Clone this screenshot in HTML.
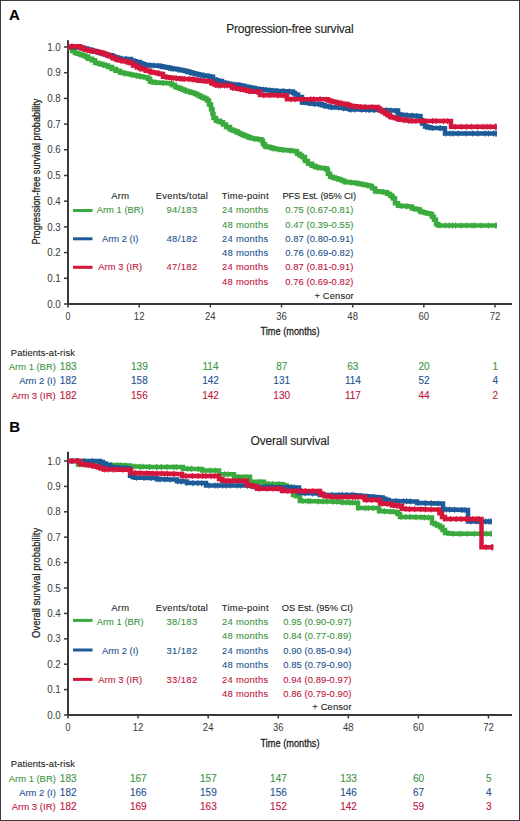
<!DOCTYPE html>
<html><head><meta charset="utf-8"><title>Survival curves</title>
<style>html,body{margin:0;padding:0;background:#fff;width:520px;height:821px;overflow:hidden;position:relative}
text{font-family:"Liberation Sans", sans-serif}</style></head>
<body>
<svg width="520" height="821" viewBox="0 0 520 821" style="position:absolute;left:0;top:0;font-family:&apos;Liberation Sans&apos;, sans-serif">
<rect x="0" y="0" width="520" height="821" fill="#fff"/>
<text x="8.9" y="19.8" font-size="15" fill="#000" stroke="#000" stroke-width="0.1" font-weight="bold">A</text>
<text x="290" y="33.4" font-size="12" fill="#231f20" stroke="#231f20" stroke-width="0.1" text-anchor="middle" textLength="127.5" lengthAdjust="spacing">Progression-free survival</text>
<rect x="67" y="40.2" width="2" height="264.8" fill="#383838"/>
<rect x="67" y="303" width="445" height="2" fill="#383838"/>
<rect x="64" y="303.25" width="4" height="1.5" fill="#383838"/>
<text x="60.8" y="307.6" font-size="10" fill="#3a3a3a" stroke="#3a3a3a" stroke-width="0" text-anchor="end" textLength="13.6" lengthAdjust="spacingAndGlyphs">0.0</text>
<rect x="64" y="277.55" width="4" height="1.5" fill="#383838"/>
<text x="60.8" y="281.9" font-size="10" fill="#3a3a3a" stroke="#3a3a3a" stroke-width="0" text-anchor="end" textLength="13.6" lengthAdjust="spacingAndGlyphs">0.1</text>
<rect x="64" y="251.85" width="4" height="1.5" fill="#383838"/>
<text x="60.8" y="256.2" font-size="10" fill="#3a3a3a" stroke="#3a3a3a" stroke-width="0" text-anchor="end" textLength="13.6" lengthAdjust="spacingAndGlyphs">0.2</text>
<rect x="64" y="226.15" width="4" height="1.5" fill="#383838"/>
<text x="60.8" y="230.5" font-size="10" fill="#3a3a3a" stroke="#3a3a3a" stroke-width="0" text-anchor="end" textLength="13.6" lengthAdjust="spacingAndGlyphs">0.3</text>
<rect x="64" y="200.45" width="4" height="1.5" fill="#383838"/>
<text x="60.8" y="204.8" font-size="10" fill="#3a3a3a" stroke="#3a3a3a" stroke-width="0" text-anchor="end" textLength="13.6" lengthAdjust="spacingAndGlyphs">0.4</text>
<rect x="64" y="174.75" width="4" height="1.5" fill="#383838"/>
<text x="60.8" y="179.1" font-size="10" fill="#3a3a3a" stroke="#3a3a3a" stroke-width="0" text-anchor="end" textLength="13.6" lengthAdjust="spacingAndGlyphs">0.5</text>
<rect x="64" y="149.05" width="4" height="1.5" fill="#383838"/>
<text x="60.8" y="153.4" font-size="10" fill="#3a3a3a" stroke="#3a3a3a" stroke-width="0" text-anchor="end" textLength="13.6" lengthAdjust="spacingAndGlyphs">0.6</text>
<rect x="64" y="123.35" width="4" height="1.5" fill="#383838"/>
<text x="60.8" y="127.7" font-size="10" fill="#3a3a3a" stroke="#3a3a3a" stroke-width="0" text-anchor="end" textLength="13.6" lengthAdjust="spacingAndGlyphs">0.7</text>
<rect x="64" y="97.65" width="4" height="1.5" fill="#383838"/>
<text x="60.8" y="102.0" font-size="10" fill="#3a3a3a" stroke="#3a3a3a" stroke-width="0" text-anchor="end" textLength="13.6" lengthAdjust="spacingAndGlyphs">0.8</text>
<rect x="64" y="71.95" width="4" height="1.5" fill="#383838"/>
<text x="60.8" y="76.3" font-size="10" fill="#3a3a3a" stroke="#3a3a3a" stroke-width="0" text-anchor="end" textLength="13.6" lengthAdjust="spacingAndGlyphs">0.9</text>
<rect x="64" y="46.25" width="4" height="1.5" fill="#383838"/>
<text x="60.8" y="50.6" font-size="10" fill="#3a3a3a" stroke="#3a3a3a" stroke-width="0" text-anchor="end" textLength="13.6" lengthAdjust="spacingAndGlyphs">1.0</text>
<rect x="67.25" y="304" width="1.5" height="3.5" fill="#383838"/>
<text x="68.0" y="319.5" font-size="10.4" fill="#3a3a3a" stroke="#3a3a3a" stroke-width="0" text-anchor="middle" textLength="5" lengthAdjust="spacingAndGlyphs">0</text>
<rect x="138.42" y="304" width="1.5" height="3.5" fill="#383838"/>
<text x="139.17" y="319.5" font-size="10.4" fill="#3a3a3a" stroke="#3a3a3a" stroke-width="0" text-anchor="middle" textLength="10.6" lengthAdjust="spacingAndGlyphs">12</text>
<rect x="209.58" y="304" width="1.5" height="3.5" fill="#383838"/>
<text x="210.33" y="319.5" font-size="10.4" fill="#3a3a3a" stroke="#3a3a3a" stroke-width="0" text-anchor="middle" textLength="10.6" lengthAdjust="spacingAndGlyphs">24</text>
<rect x="280.75" y="304" width="1.5" height="3.5" fill="#383838"/>
<text x="281.5" y="319.5" font-size="10.4" fill="#3a3a3a" stroke="#3a3a3a" stroke-width="0" text-anchor="middle" textLength="10.6" lengthAdjust="spacingAndGlyphs">36</text>
<rect x="351.92" y="304" width="1.5" height="3.5" fill="#383838"/>
<text x="352.67" y="319.5" font-size="10.4" fill="#3a3a3a" stroke="#3a3a3a" stroke-width="0" text-anchor="middle" textLength="10.6" lengthAdjust="spacingAndGlyphs">48</text>
<rect x="423.08" y="304" width="1.5" height="3.5" fill="#383838"/>
<text x="423.83" y="319.5" font-size="10.4" fill="#3a3a3a" stroke="#3a3a3a" stroke-width="0" text-anchor="middle" textLength="10.6" lengthAdjust="spacingAndGlyphs">60</text>
<rect x="494.25" y="304" width="1.5" height="3.5" fill="#383838"/>
<text x="495.0" y="319.5" font-size="10.4" fill="#3a3a3a" stroke="#3a3a3a" stroke-width="0" text-anchor="middle" textLength="10.6" lengthAdjust="spacingAndGlyphs">72</text>
<text x="290" y="335.4" font-size="11" fill="#231f20" stroke="#231f20" stroke-width="0.3" text-anchor="middle" textLength="59" lengthAdjust="spacingAndGlyphs">Time (months)</text>
<text x="0" y="0" font-size="11" fill="#231f20" stroke="#231f20" stroke-width="0.25" text-anchor="middle" textLength="146" lengthAdjust="spacingAndGlyphs" transform="translate(40.2,171.6) rotate(-90)">Progression-free survival probability</text>
<text x="120.1" y="199" font-size="9.4" fill="#231f20" stroke="#231f20" stroke-width="0.1" text-anchor="middle" textLength="17.8" lengthAdjust="spacing">Arm</text>
<text x="181.8" y="199" font-size="9.4" fill="#231f20" stroke="#231f20" stroke-width="0.1" text-anchor="middle" textLength="52.3" lengthAdjust="spacing">Events/total</text>
<text x="245.1" y="199" font-size="9.4" fill="#231f20" stroke="#231f20" stroke-width="0.1" text-anchor="middle" textLength="46.8" lengthAdjust="spacing">Time-point</text>
<text x="319.3" y="199" font-size="9.4" fill="#231f20" stroke="#231f20" stroke-width="0.1" text-anchor="middle" textLength="73.7" lengthAdjust="spacing">PFS Est. (95% CI)</text>
<rect x="73" y="209.0" width="19.5" height="3" fill="#3aaa3e"/>
<text x="120.2" y="213.3" font-size="9.4" fill="#3a9440" stroke="#3a9440" stroke-width="0.1" text-anchor="middle" textLength="47" lengthAdjust="spacing">Arm 1 (BR)</text>
<text x="181.8" y="213.3" font-size="9.4" fill="#3a9440" stroke="#3a9440" stroke-width="0.1" text-anchor="middle" textLength="30.8" lengthAdjust="spacing">94/183</text>
<text x="245.1" y="213.3" font-size="9.4" fill="#3a9440" stroke="#3a9440" stroke-width="0.1" text-anchor="middle" textLength="46.2" lengthAdjust="spacing">24 months</text>
<text x="245.1" y="227.6" font-size="9.4" fill="#3a9440" stroke="#3a9440" stroke-width="0.1" text-anchor="middle" textLength="46.2" lengthAdjust="spacing">48 months</text>
<text x="319.3" y="213.3" font-size="9.4" fill="#3a9440" stroke="#3a9440" stroke-width="0.1" text-anchor="middle" textLength="68" lengthAdjust="spacing">0.75 (0.67-0.81)</text>
<text x="319.3" y="227.6" font-size="9.4" fill="#3a9440" stroke="#3a9440" stroke-width="0.1" text-anchor="middle" textLength="68" lengthAdjust="spacing">0.47 (0.39-0.55)</text>
<rect x="73" y="237.3" width="19.5" height="3" fill="#1d5b98"/>
<text x="120.2" y="241.8" font-size="9.4" fill="#1d528e" stroke="#1d528e" stroke-width="0.1" text-anchor="middle" textLength="36.6" lengthAdjust="spacing">Arm 2 (I)</text>
<text x="181.8" y="241.8" font-size="9.4" fill="#1d528e" stroke="#1d528e" stroke-width="0.1" text-anchor="middle" textLength="30.8" lengthAdjust="spacing">48/182</text>
<text x="245.1" y="241.8" font-size="9.4" fill="#1d528e" stroke="#1d528e" stroke-width="0.1" text-anchor="middle" textLength="46.2" lengthAdjust="spacing">24 months</text>
<text x="245.1" y="256.1" font-size="9.4" fill="#1d528e" stroke="#1d528e" stroke-width="0.1" text-anchor="middle" textLength="46.2" lengthAdjust="spacing">48 months</text>
<text x="319.3" y="241.8" font-size="9.4" fill="#1d528e" stroke="#1d528e" stroke-width="0.1" text-anchor="middle" textLength="68" lengthAdjust="spacing">0.87 (0.80-0.91)</text>
<text x="319.3" y="256.1" font-size="9.4" fill="#1d528e" stroke="#1d528e" stroke-width="0.1" text-anchor="middle" textLength="68" lengthAdjust="spacing">0.76 (0.69-0.82)</text>
<rect x="73" y="265.8" width="19.5" height="3" fill="#d4163c"/>
<text x="120.2" y="270.4" font-size="9.4" fill="#c0163a" stroke="#c0163a" stroke-width="0.1" text-anchor="middle" textLength="44.1" lengthAdjust="spacing">Arm 3 (IR)</text>
<text x="181.8" y="270.4" font-size="9.4" fill="#c0163a" stroke="#c0163a" stroke-width="0.1" text-anchor="middle" textLength="30.8" lengthAdjust="spacing">47/182</text>
<text x="245.1" y="270.4" font-size="9.4" fill="#c0163a" stroke="#c0163a" stroke-width="0.1" text-anchor="middle" textLength="46.2" lengthAdjust="spacing">24 months</text>
<text x="245.1" y="284.7" font-size="9.4" fill="#c0163a" stroke="#c0163a" stroke-width="0.1" text-anchor="middle" textLength="46.2" lengthAdjust="spacing">48 months</text>
<text x="319.3" y="270.4" font-size="9.4" fill="#c0163a" stroke="#c0163a" stroke-width="0.1" text-anchor="middle" textLength="68" lengthAdjust="spacing">0.87 (0.81-0.91)</text>
<text x="319.3" y="284.7" font-size="9.4" fill="#c0163a" stroke="#c0163a" stroke-width="0.1" text-anchor="middle" textLength="68" lengthAdjust="spacing">0.76 (0.69-0.82)</text>
<text x="353.7" y="298.6" font-size="9.4" fill="#231f20" stroke="#231f20" stroke-width="0.1" text-anchor="end" textLength="39.2" lengthAdjust="spacing">+ Censor</text>
<text x="75" y="356.1" font-size="9.4" fill="#231f20" stroke="#231f20" stroke-width="0.1" text-anchor="end" textLength="64.2" lengthAdjust="spacing">Patients-at-risk</text>
<text x="55.8" y="370.2" font-size="9.9" fill="#3a9440" stroke="#3a9440" stroke-width="0.1" text-anchor="end" textLength="47" lengthAdjust="spacingAndGlyphs">Arm 1 (BR)</text>
<text x="68.2" y="370.2" font-size="10" fill="#3a9440" stroke="#3a9440" stroke-width="0.1" text-anchor="middle">183</text>
<text x="139.37" y="370.2" font-size="10" fill="#3a9440" stroke="#3a9440" stroke-width="0.1" text-anchor="middle">139</text>
<text x="210.53" y="370.2" font-size="10" fill="#3a9440" stroke="#3a9440" stroke-width="0.1" text-anchor="middle">114</text>
<text x="281.7" y="370.2" font-size="10" fill="#3a9440" stroke="#3a9440" stroke-width="0.1" text-anchor="middle">87</text>
<text x="352.87" y="370.2" font-size="10" fill="#3a9440" stroke="#3a9440" stroke-width="0.1" text-anchor="middle">63</text>
<text x="424.03" y="370.2" font-size="10" fill="#3a9440" stroke="#3a9440" stroke-width="0.1" text-anchor="middle">20</text>
<text x="495.2" y="370.2" font-size="10" fill="#3a9440" stroke="#3a9440" stroke-width="0.1" text-anchor="middle">1</text>
<text x="55.8" y="384.4" font-size="9.9" fill="#1d528e" stroke="#1d528e" stroke-width="0.1" text-anchor="end" textLength="36.6" lengthAdjust="spacingAndGlyphs">Arm 2 (I)</text>
<text x="68.2" y="384.4" font-size="10" fill="#1d528e" stroke="#1d528e" stroke-width="0.1" text-anchor="middle">182</text>
<text x="139.37" y="384.4" font-size="10" fill="#1d528e" stroke="#1d528e" stroke-width="0.1" text-anchor="middle">158</text>
<text x="210.53" y="384.4" font-size="10" fill="#1d528e" stroke="#1d528e" stroke-width="0.1" text-anchor="middle">142</text>
<text x="281.7" y="384.4" font-size="10" fill="#1d528e" stroke="#1d528e" stroke-width="0.1" text-anchor="middle">131</text>
<text x="352.87" y="384.4" font-size="10" fill="#1d528e" stroke="#1d528e" stroke-width="0.1" text-anchor="middle">114</text>
<text x="424.03" y="384.4" font-size="10" fill="#1d528e" stroke="#1d528e" stroke-width="0.1" text-anchor="middle">52</text>
<text x="495.2" y="384.4" font-size="10" fill="#1d528e" stroke="#1d528e" stroke-width="0.1" text-anchor="middle">4</text>
<text x="55.8" y="398.5" font-size="9.9" fill="#c0163a" stroke="#c0163a" stroke-width="0.1" text-anchor="end" textLength="44.1" lengthAdjust="spacingAndGlyphs">Arm 3 (IR)</text>
<text x="68.2" y="398.5" font-size="10" fill="#c0163a" stroke="#c0163a" stroke-width="0.1" text-anchor="middle">182</text>
<text x="139.37" y="398.5" font-size="10" fill="#c0163a" stroke="#c0163a" stroke-width="0.1" text-anchor="middle">156</text>
<text x="210.53" y="398.5" font-size="10" fill="#c0163a" stroke="#c0163a" stroke-width="0.1" text-anchor="middle">142</text>
<text x="281.7" y="398.5" font-size="10" fill="#c0163a" stroke="#c0163a" stroke-width="0.1" text-anchor="middle">130</text>
<text x="352.87" y="398.5" font-size="10" fill="#c0163a" stroke="#c0163a" stroke-width="0.1" text-anchor="middle">117</text>
<text x="424.03" y="398.5" font-size="10" fill="#c0163a" stroke="#c0163a" stroke-width="0.1" text-anchor="middle">44</text>
<text x="495.2" y="398.5" font-size="10" fill="#c0163a" stroke="#c0163a" stroke-width="0.1" text-anchor="middle">2</text>
<path d="M68.0,47.0H70.0V47.8H72.0V50.7H75.0V53.0H77.5V53.8H80.0V54.5H82.5V55.5H85.0V56.4H88.0V58.8H92.0V60.3H95.0V62.7H97.5V63.4H100.0V64.1H102.5V64.8H105.0V65.6H108.0V67.0H112.0V68.9H116.0V70.8H120.0V72.6H122.5V73.1H125.0V73.6H127.5V74.0H130.0V74.5H132.5V75.0H135.0V75.5H137.5V76.0H140.0V76.4H142.5V76.9H145.0V77.4H148.0V78.8H150.0V81.7H152.5V82.2H155.0V82.6H158.3V82.8H161.7V82.9H165.0V83.1H167.5V83.3H170.0V83.6H172.0V85.0H175.0V86.9H177.5V87.8H180.0V88.8H182.5V89.8H185.0V90.8H187.5V91.5H190.0V92.2H192.5V93.1H195.0V94.0H197.5V95.3H200.0V96.7H202.5V97.7H205.0V98.7H207.0V100.6H209.0V104.4H211.0V109.2H212.5V114.0H213.5V117.9H216.0V120.8H220.0V122.2H223.0V124.6H226.0V127.0H230.0V129.4H232.5V130.4H235.0V131.3H237.5V132.7H240.0V134.0H242.5V135.0H245.0V136.0H247.5V137.0H250.0V138.0H252.5V138.5H255.0V139.0H257.5V139.2H260.0V139.4H262.0V140.9H263.0V144.2H265.0V146.6H267.5V147.1H270.0V147.6H272.5V148.3H275.0V149.0H277.7V149.3H280.3V149.7H283.0V150.0H286.0V150.3H289.0V150.6H292.0V150.9H295.0V151.2H297.0V153.7H300.0V155.6H302.0V157.0H305.0V160.9H308.0V163.8H312.0V165.7H315.0V167.1H317.5V167.6H320.0V168.1H322.5V168.3H325.0V168.6H327.0V170.0H328.0V173.8H330.0V176.7H332.5V177.4H335.0V178.2H337.5V179.1H340.0V180.1H342.5V181.1H345.0V182.0H347.5V182.2H350.0V182.5H352.5V182.8H355.0V183.0H357.5V183.5H360.0V184.0H362.5V184.4H365.0V184.9H367.5V185.4H370.0V185.9H372.0V188.3H375.0V191.2H378.3V191.5H381.7V191.9H385.0V192.2H387.0V193.7H390.0V195.6H392.0V197.0H393.0V198.5H395.0V203.3H398.0V205.7H401.0V205.9H404.0V206.1H407.0V206.4H410.0V206.6H412.0V208.6H415.0V209.1H418.0V209.5H420.0V211.5H422.5V212.2H425.0V213.0H427.5V213.5H430.0V214.0H432.0V216.8H434.0V219.7H436.0V224.0H438.0V225.5H497.0" fill="none" stroke="#3aaa3e" stroke-width="4.5" stroke-linejoin="miter" stroke-linecap="butt"/>
<path d="M72.0,47.7V53.7M79.1,51.2V57.2M85.6,53.9V59.9M90.1,56.6V62.6M93.7,58.7V64.7M98.8,60.8V66.8M103.2,62.1V68.1M109.9,64.9V70.9M113.7,66.7V72.7M118.6,69.0V75.0M124.1,70.4V76.4M131.5,71.8V77.8M136.5,72.8V78.8M140.2,73.4V79.4M146.8,75.2V81.2M152.5,79.1V85.1M156.0,79.6V85.6M163.4,80.0V86.0M171.3,81.5V87.5M178.2,85.1V91.1M185.6,88.0V94.0M189.5,89.1V95.1M195.9,91.5V97.5M203.2,95.0V101.0M209.4,102.2V108.2M214.2,115.7V121.7M216.8,118.1V124.1M221.4,120.3V126.3M227.1,124.6V130.6M234.5,128.1V134.1M242.3,131.9V137.9M247.2,133.9V139.9M254.4,135.9V141.9M258.0,136.2V142.2M264.8,143.3V149.3M270.1,144.6V150.6M272.2,145.2V151.2M278.5,146.4V152.4M282.9,147.0V153.0M289.8,147.7V153.7M295.8,149.3V155.3M297.8,151.2V157.2M302.8,155.0V161.0M310.0,161.7V167.7M313.5,163.4V169.4M317.4,164.6V170.6M324.6,165.6V171.6M327.8,170.0V176.0M333.2,174.7V180.7M336.6,175.8V181.8M344.4,178.8V184.8M351.2,179.6V185.6M355.9,180.2V186.2M358.4,180.7V186.7M362.3,181.4V187.4M367.4,182.4V188.4M375.0,188.2V194.2M377.6,188.5V194.5M382.9,189.0V195.0M389.2,192.1V198.1M394.5,199.0V205.0M401.4,203.0V209.0M406.6,203.3V209.3M414.4,206.0V212.0M420.0,208.5V214.5M425.5,210.1V216.1M430.2,211.3V217.3M435.8,220.5V226.5M440.1,222.5V228.5M445.5,222.5V228.5M449.3,222.5V228.5M452.4,222.5V228.5M455.5,222.5V228.5M461.2,222.5V228.5M467.2,222.5V228.5M472.0,222.5V228.5M474.6,222.5V228.5M481.1,222.5V228.5M488.4,222.5V228.5M495.9,222.5V228.5M496.0,222.2V228.8" fill="none" stroke="#3aaa3e" stroke-width="1.1"/>
<path d="M68.0,47.0H75.0H77.5V47.2H80.0V47.5H82.5V48.1H85.0V48.7H87.5V49.4H90.0V50.0H92.5V50.8H95.0V51.5H97.5V52.2H100.0V53.0H102.5V53.8H105.0V54.5H107.5V54.9H110.0V55.3H112.5V56.4H115.0V57.5H117.5V58.1H120.0V58.7H122.7V58.8H125.3V59.0H128.0V59.1H131.0V60.6H133.5V61.3H136.0V62.0H140.0V63.5H142.5V64.2H145.0V64.9H147.5V65.2H150.0V65.4H155.0H157.5V65.8H160.0V66.2H162.5V66.7H165.0V67.2H167.5V67.7H170.0V68.2H172.5V68.7H175.0V69.1H177.5V69.6H180.0V70.1H182.5V70.6H185.0V71.1H187.5V71.8H190.0V72.5H192.5V73.2H195.0V73.9H197.5V74.5H200.0V75.0H202.5V75.4H205.0V75.8H207.5V76.2H210.0V76.7H213.0V79.6H215.5V80.3H218.0V81.0H222.0V82.5H224.7V83.1H227.3V83.8H230.0V84.4H235.0H237.5V84.9H240.0V85.4H242.5V86.1H245.0V86.8H248.3V87.4H251.7V88.1H255.0V88.7H258.3V89.2H261.7V89.6H265.0V90.1H267.5V90.3H270.0V90.6H273.3V90.8H276.7V90.9H280.0V91.1H283.3V91.3H286.7V91.4H290.0V91.6H293.0V93.0H295.0V94.5H298.0V97.0H302.0V102.4H304.7V102.7H307.3V103.1H310.0V103.4H312.5V103.7H315.0V103.9H317.5V104.1H320.0V104.3H322.0V105.3H324.7V105.9H327.3V106.6H330.0V107.2H333.3V107.4H336.7V107.5H340.0V107.7H343.3V108.3H346.7V108.8H350.0V109.4H353.0V109.5H356.0V109.5H359.0V109.6H362.0V109.7H365.0V109.8H368.0V109.8H371.0V109.9H374.0V110.0H377.0V110.1H380.0V110.1H383.0V110.2H386.0V110.3H389.0V110.4H392.0V110.4H395.0V110.5H398.0V114.4H401.5V114.9H405.0V115.4H408.3V115.6H411.7V115.7H415.0V115.9H417.5V116.1H420.0V116.3H420.5V120.0H422.0V123.6H425.0V126.4H427.5V127.2H430.0V127.9H433.2V128.0H436.5V128.1H439.8V128.2H443.0V128.3H445.0V133.6H497.0" fill="none" stroke="#1d5b98" stroke-width="4.5" stroke-linejoin="miter" stroke-linecap="butt"/>
<path d="M72.0,44.0V50.0M74.8,44.0V50.0M81.9,45.0V51.0M88.5,46.6V52.6M92.0,47.6V53.6M97.0,49.1V55.1M101.7,50.5V56.5M107.6,51.9V57.9M114.3,54.2V60.2M116.9,55.0V61.0M119.0,55.5V61.5M126.1,56.0V62.0M130.7,57.4V63.4M137.2,59.5V65.5M139.2,60.2V66.2M143.9,61.6V67.6M150.2,62.4V68.4M153.6,62.5V68.5M161.3,63.5V69.5M168.7,64.9V70.9M170.9,65.4V71.4M173.0,65.7V71.7M178.3,66.8V72.8M185.9,68.4V74.4M190.2,69.6V75.6M193.5,70.5V76.5M198.0,71.6V77.6M200.2,72.0V78.0M203.5,72.6V78.6M208.2,73.4V79.4M213.1,76.6V82.6M216.5,77.6V83.6M219.9,78.7V84.7M223.2,79.8V85.8M228.0,80.9V86.9M231.7,81.5V87.5M233.9,81.6V87.6M240.9,82.7V88.7M246.2,84.0V90.0M252.1,85.1V91.1M255.2,85.7V91.7M263.2,86.8V92.8M270.3,87.6V93.6M273.0,87.8V93.8M277.0,88.0V94.0M283.4,88.3V94.3M289.6,88.6V94.6M297.3,93.4V99.4M301.8,99.1V105.1M308.8,100.2V106.2M314.8,100.9V106.9M318.6,101.2V107.2M324.1,102.8V108.8M331.4,104.3V110.3M338.5,104.6V110.6M343.5,105.3V111.3M349.1,106.2V112.2M351.3,106.4V112.4M354.7,106.5V112.5M361.5,106.7V112.7M366.0,106.8V112.8M369.0,106.9V112.9M374.3,107.0V113.0M380.6,107.1V113.1M386.6,107.3V113.3M390.8,107.4V113.4M395.5,108.1V114.1M400.5,111.8V117.8M407.2,112.5V118.5M412.3,112.8V118.8M416.7,113.0V119.0M421.6,119.7V125.7M423.8,122.3V128.3M426.1,123.7V129.7M432.3,125.0V131.0M440.2,125.2V131.2M445.7,130.6V136.6M450.1,130.6V136.6M453.1,130.6V136.6M458.1,130.6V136.6M466.0,130.6V136.6M472.7,130.6V136.6M477.9,130.6V136.6M485.1,130.6V136.6M488.4,130.6V136.6M493.5,130.6V136.6M496.0,130.3V136.9" fill="none" stroke="#1d5b98" stroke-width="1.1"/>
<path d="M68.0,47.0H72.0V46.2H78.0H80.0V47.8H82.5V48.8H85.0V49.7H87.5V50.2H90.0V50.7H92.5V51.2H95.0V51.6H97.5V52.1H100.0V52.6H102.5V53.5H105.0V54.5H107.5V55.5H110.0V56.6H112.5V57.9H115.0V59.1H117.5V59.9H120.0V60.6H122.5V61.0H125.0V61.5H127.5V62.2H130.0V63.0H133.0V65.4H137.0V67.3H139.5V68.2H142.0V69.2H146.0V70.7H150.0V72.1H152.5V72.4H155.0V72.8H157.5V73.4H160.0V74.0H163.0V76.8H166.5V77.3H170.0V77.8H172.5V78.0H175.0V78.3H177.5V78.5H180.0V78.8H183.3V78.9H186.7V79.0H190.0V79.2H193.3V79.7H196.7V80.2H200.0V80.7H202.7V81.0H205.3V81.2H208.0V81.5H212.0V83.5H214.5V84.5H217.0V85.4H230.0H232.0V87.8H234.7V88.3H237.3V88.7H240.0V89.2H242.5V89.7H245.0V90.2H247.5V90.8H250.0V91.5H253.0V91.7H256.0V91.8H259.0V92.0H260.0V95.1H263.1V95.1H266.2V95.2H269.4V95.2H272.5V95.3H275.6V95.3H278.8V95.4H281.9V95.5H285.0V95.5H287.0V99.2H325.0H328.0V100.5H330.5V101.2H333.0V102.0H336.5V102.7H340.0V103.4H342.5V103.8H345.0V104.1H347.5V105.0H350.0V106.0H353.3V106.3H356.7V106.7H360.0V107.0H375.0H378.0V108.5H380.0V110.5H382.5V112.0H385.0V113.5H387.5V115.2H390.0V116.8H392.5V117.5H395.0V118.3H397.5V119.0H400.0V119.7H403.3V120.1H406.7V120.6H410.0V121.0H450.0H451.0V126.8H497.0" fill="none" stroke="#d4163c" stroke-width="4.5" stroke-linejoin="miter" stroke-linecap="butt"/>
<path d="M72.0,43.2V49.2M79.7,44.6V50.6M87.4,47.2V53.2M89.8,47.7V53.7M92.3,48.1V54.1M99.3,49.5V55.5M105.7,51.8V57.8M111.7,54.5V60.5M115.6,56.3V62.3M121.2,57.8V63.8M126.8,59.1V65.1M132.3,61.9V67.9M135.3,63.5V69.5M139.9,65.4V71.4M144.2,67.0V73.0M150.6,69.2V75.2M158.5,70.6V76.6M166.2,74.3V80.3M171.5,74.9V80.9M176.2,75.4V81.4M179.8,75.7V81.7M182.0,75.8V81.8M184.2,75.9V81.9M188.9,76.2V82.2M192.9,76.6V82.6M197.1,77.3V83.3M204.5,78.1V84.1M209.6,79.3V85.3M215.0,81.6V87.6M218.4,82.4V88.4M220.6,82.5V88.5M224.5,82.5V88.5M227.3,82.6V88.6M232.4,84.9V90.9M240.4,86.3V92.3M246.4,87.6V93.6M249.5,88.4V94.4M256.9,88.9V94.9M263.7,92.2V98.2M270.1,92.3V98.3M277.5,92.4V98.4M284.1,92.5V98.5M290.8,96.2V102.2M295.0,96.2V102.2M302.8,96.2V102.2M310.6,96.2V102.2M313.6,96.2V102.2M320.1,96.2V102.2M326.4,96.8V102.8M331.2,98.4V104.4M336.3,99.7V105.7M341.3,100.6V106.6M348.8,102.6V108.6M353.8,103.4V109.4M360.8,104.0V110.0M364.9,104.1V110.1M372.2,104.2V110.2M379.6,107.1V113.1M384.4,110.1V116.1M389.8,113.7V119.7M397.3,116.0V122.0M403.7,117.2V123.2M408.6,117.8V123.8M411.9,118.0V124.0M415.9,118.0V124.0M422.1,118.1V124.1M425.1,118.1V124.1M432.5,118.1V124.1M436.1,118.1V124.1M443.6,118.2V124.2M447.5,118.2V124.2M455.2,123.8V129.8M461.4,123.8V129.8M466.5,123.8V129.8M471.6,123.8V129.8M477.5,123.8V129.8M483.0,123.8V129.8M486.9,123.8V129.8M490.1,123.8V129.8M495.2,123.8V129.8M496.0,123.5V130.1" fill="none" stroke="#d4163c" stroke-width="1.1"/>
<text x="9.3" y="431.6" font-size="15" fill="#000" stroke="#000" stroke-width="0.1" font-weight="bold">B</text>
<text x="290" y="444.9" font-size="12" fill="#231f20" stroke="#231f20" stroke-width="0.1" text-anchor="middle" textLength="78.8" lengthAdjust="spacing">Overall survival</text>
<rect x="67" y="451.7" width="2" height="264.3" fill="#383838"/>
<rect x="67" y="714" width="445" height="2" fill="#383838"/>
<rect x="64" y="714.25" width="4" height="1.5" fill="#383838"/>
<text x="60.8" y="718.6" font-size="10" fill="#3a3a3a" stroke="#3a3a3a" stroke-width="0" text-anchor="end" textLength="13.6" lengthAdjust="spacingAndGlyphs">0.0</text>
<rect x="64" y="688.85" width="4" height="1.5" fill="#383838"/>
<text x="60.8" y="693.2" font-size="10" fill="#3a3a3a" stroke="#3a3a3a" stroke-width="0" text-anchor="end" textLength="13.6" lengthAdjust="spacingAndGlyphs">0.1</text>
<rect x="64" y="663.45" width="4" height="1.5" fill="#383838"/>
<text x="60.8" y="667.8" font-size="10" fill="#3a3a3a" stroke="#3a3a3a" stroke-width="0" text-anchor="end" textLength="13.6" lengthAdjust="spacingAndGlyphs">0.2</text>
<rect x="64" y="638.05" width="4" height="1.5" fill="#383838"/>
<text x="60.8" y="642.4" font-size="10" fill="#3a3a3a" stroke="#3a3a3a" stroke-width="0" text-anchor="end" textLength="13.6" lengthAdjust="spacingAndGlyphs">0.3</text>
<rect x="64" y="612.65" width="4" height="1.5" fill="#383838"/>
<text x="60.8" y="617.0" font-size="10" fill="#3a3a3a" stroke="#3a3a3a" stroke-width="0" text-anchor="end" textLength="13.6" lengthAdjust="spacingAndGlyphs">0.4</text>
<rect x="64" y="587.25" width="4" height="1.5" fill="#383838"/>
<text x="60.8" y="591.6" font-size="10" fill="#3a3a3a" stroke="#3a3a3a" stroke-width="0" text-anchor="end" textLength="13.6" lengthAdjust="spacingAndGlyphs">0.5</text>
<rect x="64" y="561.85" width="4" height="1.5" fill="#383838"/>
<text x="60.8" y="566.2" font-size="10" fill="#3a3a3a" stroke="#3a3a3a" stroke-width="0" text-anchor="end" textLength="13.6" lengthAdjust="spacingAndGlyphs">0.6</text>
<rect x="64" y="536.45" width="4" height="1.5" fill="#383838"/>
<text x="60.8" y="540.8" font-size="10" fill="#3a3a3a" stroke="#3a3a3a" stroke-width="0" text-anchor="end" textLength="13.6" lengthAdjust="spacingAndGlyphs">0.7</text>
<rect x="64" y="511.05" width="4" height="1.5" fill="#383838"/>
<text x="60.8" y="515.4" font-size="10" fill="#3a3a3a" stroke="#3a3a3a" stroke-width="0" text-anchor="end" textLength="13.6" lengthAdjust="spacingAndGlyphs">0.8</text>
<rect x="64" y="485.65" width="4" height="1.5" fill="#383838"/>
<text x="60.8" y="490.0" font-size="10" fill="#3a3a3a" stroke="#3a3a3a" stroke-width="0" text-anchor="end" textLength="13.6" lengthAdjust="spacingAndGlyphs">0.9</text>
<rect x="64" y="460.25" width="4" height="1.5" fill="#383838"/>
<text x="60.8" y="464.6" font-size="10" fill="#3a3a3a" stroke="#3a3a3a" stroke-width="0" text-anchor="end" textLength="13.6" lengthAdjust="spacingAndGlyphs">1.0</text>
<rect x="67.25" y="715" width="1.5" height="3.5" fill="#383838"/>
<text x="68.0" y="730.5" font-size="10.4" fill="#3a3a3a" stroke="#3a3a3a" stroke-width="0" text-anchor="middle" textLength="5" lengthAdjust="spacingAndGlyphs">0</text>
<rect x="137.33" y="715" width="1.5" height="3.5" fill="#383838"/>
<text x="138.08" y="730.5" font-size="10.4" fill="#3a3a3a" stroke="#3a3a3a" stroke-width="0" text-anchor="middle" textLength="10.6" lengthAdjust="spacingAndGlyphs">12</text>
<rect x="207.42" y="715" width="1.5" height="3.5" fill="#383838"/>
<text x="208.17" y="730.5" font-size="10.4" fill="#3a3a3a" stroke="#3a3a3a" stroke-width="0" text-anchor="middle" textLength="10.6" lengthAdjust="spacingAndGlyphs">24</text>
<rect x="277.50" y="715" width="1.5" height="3.5" fill="#383838"/>
<text x="278.25" y="730.5" font-size="10.4" fill="#3a3a3a" stroke="#3a3a3a" stroke-width="0" text-anchor="middle" textLength="10.6" lengthAdjust="spacingAndGlyphs">36</text>
<rect x="347.58" y="715" width="1.5" height="3.5" fill="#383838"/>
<text x="348.33" y="730.5" font-size="10.4" fill="#3a3a3a" stroke="#3a3a3a" stroke-width="0" text-anchor="middle" textLength="10.6" lengthAdjust="spacingAndGlyphs">48</text>
<rect x="417.67" y="715" width="1.5" height="3.5" fill="#383838"/>
<text x="418.42" y="730.5" font-size="10.4" fill="#3a3a3a" stroke="#3a3a3a" stroke-width="0" text-anchor="middle" textLength="10.6" lengthAdjust="spacingAndGlyphs">60</text>
<rect x="487.75" y="715" width="1.5" height="3.5" fill="#383838"/>
<text x="488.5" y="730.5" font-size="10.4" fill="#3a3a3a" stroke="#3a3a3a" stroke-width="0" text-anchor="middle" textLength="10.6" lengthAdjust="spacingAndGlyphs">72</text>
<text x="290" y="746.9" font-size="11" fill="#231f20" stroke="#231f20" stroke-width="0.3" text-anchor="middle" textLength="59" lengthAdjust="spacingAndGlyphs">Time (months)</text>
<text x="0" y="0" font-size="11" fill="#231f20" stroke="#231f20" stroke-width="0.25" text-anchor="middle" textLength="110" lengthAdjust="spacingAndGlyphs" transform="translate(40.2,582.9) rotate(-90)">Overall survival probability</text>
<text x="120.1" y="610.6" font-size="9.4" fill="#231f20" stroke="#231f20" stroke-width="0.1" text-anchor="middle" textLength="17.8" lengthAdjust="spacing">Arm</text>
<text x="181.8" y="610.6" font-size="9.4" fill="#231f20" stroke="#231f20" stroke-width="0.1" text-anchor="middle" textLength="52.3" lengthAdjust="spacing">Events/total</text>
<text x="245.1" y="610.6" font-size="9.4" fill="#231f20" stroke="#231f20" stroke-width="0.1" text-anchor="middle" textLength="46.8" lengthAdjust="spacing">Time-point</text>
<text x="317.3" y="610.6" font-size="9.4" fill="#231f20" stroke="#231f20" stroke-width="0.1" text-anchor="middle" textLength="71.3" lengthAdjust="spacing">OS Est. (95% CI)</text>
<rect x="73" y="618.9" width="19.5" height="3" fill="#3aaa3e"/>
<text x="120.2" y="625.0" font-size="9.4" fill="#3a9440" stroke="#3a9440" stroke-width="0.1" text-anchor="middle" textLength="47" lengthAdjust="spacing">Arm 1 (BR)</text>
<text x="181.8" y="625.0" font-size="9.4" fill="#3a9440" stroke="#3a9440" stroke-width="0.1" text-anchor="middle" textLength="30.8" lengthAdjust="spacing">38/183</text>
<text x="245.1" y="625.0" font-size="9.4" fill="#3a9440" stroke="#3a9440" stroke-width="0.1" text-anchor="middle" textLength="46.2" lengthAdjust="spacing">24 months</text>
<text x="245.1" y="639.4" font-size="9.4" fill="#3a9440" stroke="#3a9440" stroke-width="0.1" text-anchor="middle" textLength="46.2" lengthAdjust="spacing">48 months</text>
<text x="317.3" y="625.0" font-size="9.4" fill="#3a9440" stroke="#3a9440" stroke-width="0.1" text-anchor="middle" textLength="68" lengthAdjust="spacing">0.95 (0.90-0.97)</text>
<text x="317.3" y="639.4" font-size="9.4" fill="#3a9440" stroke="#3a9440" stroke-width="0.1" text-anchor="middle" textLength="68" lengthAdjust="spacing">0.84 (0.77-0.89)</text>
<rect x="73" y="648.5" width="19.5" height="3" fill="#1d5b98"/>
<text x="120.2" y="653.8" font-size="9.4" fill="#1d528e" stroke="#1d528e" stroke-width="0.1" text-anchor="middle" textLength="36.6" lengthAdjust="spacing">Arm 2 (I)</text>
<text x="181.8" y="653.8" font-size="9.4" fill="#1d528e" stroke="#1d528e" stroke-width="0.1" text-anchor="middle" textLength="30.8" lengthAdjust="spacing">31/182</text>
<text x="245.1" y="653.8" font-size="9.4" fill="#1d528e" stroke="#1d528e" stroke-width="0.1" text-anchor="middle" textLength="46.2" lengthAdjust="spacing">24 months</text>
<text x="245.1" y="668.2" font-size="9.4" fill="#1d528e" stroke="#1d528e" stroke-width="0.1" text-anchor="middle" textLength="46.2" lengthAdjust="spacing">48 months</text>
<text x="317.3" y="653.8" font-size="9.4" fill="#1d528e" stroke="#1d528e" stroke-width="0.1" text-anchor="middle" textLength="68" lengthAdjust="spacing">0.90 (0.85-0.94)</text>
<text x="317.3" y="668.2" font-size="9.4" fill="#1d528e" stroke="#1d528e" stroke-width="0.1" text-anchor="middle" textLength="68" lengthAdjust="spacing">0.85 (0.79-0.90)</text>
<rect x="73" y="677.9" width="19.5" height="3" fill="#d4163c"/>
<text x="120.2" y="682.6" font-size="9.4" fill="#c0163a" stroke="#c0163a" stroke-width="0.1" text-anchor="middle" textLength="44.1" lengthAdjust="spacing">Arm 3 (IR)</text>
<text x="181.8" y="682.6" font-size="9.4" fill="#c0163a" stroke="#c0163a" stroke-width="0.1" text-anchor="middle" textLength="30.8" lengthAdjust="spacing">33/182</text>
<text x="245.1" y="682.6" font-size="9.4" fill="#c0163a" stroke="#c0163a" stroke-width="0.1" text-anchor="middle" textLength="46.2" lengthAdjust="spacing">24 months</text>
<text x="245.1" y="696.9" font-size="9.4" fill="#c0163a" stroke="#c0163a" stroke-width="0.1" text-anchor="middle" textLength="46.2" lengthAdjust="spacing">48 months</text>
<text x="317.3" y="682.6" font-size="9.4" fill="#c0163a" stroke="#c0163a" stroke-width="0.1" text-anchor="middle" textLength="68" lengthAdjust="spacing">0.94 (0.89-0.97)</text>
<text x="317.3" y="696.9" font-size="9.4" fill="#c0163a" stroke="#c0163a" stroke-width="0.1" text-anchor="middle" textLength="68" lengthAdjust="spacing">0.86 (0.79-0.90)</text>
<text x="351.5" y="710.2" font-size="9.4" fill="#231f20" stroke="#231f20" stroke-width="0.1" text-anchor="end" textLength="39.2" lengthAdjust="spacing">+ Censor</text>
<text x="75" y="767.4" font-size="9.4" fill="#231f20" stroke="#231f20" stroke-width="0.1" text-anchor="end" textLength="64.2" lengthAdjust="spacing">Patients-at-risk</text>
<text x="55.8" y="781.5" font-size="9.9" fill="#3a9440" stroke="#3a9440" stroke-width="0.1" text-anchor="end" textLength="47" lengthAdjust="spacingAndGlyphs">Arm 1 (BR)</text>
<text x="68.2" y="781.5" font-size="10" fill="#3a9440" stroke="#3a9440" stroke-width="0.1" text-anchor="middle">183</text>
<text x="138.28" y="781.5" font-size="10" fill="#3a9440" stroke="#3a9440" stroke-width="0.1" text-anchor="middle">167</text>
<text x="208.37" y="781.5" font-size="10" fill="#3a9440" stroke="#3a9440" stroke-width="0.1" text-anchor="middle">157</text>
<text x="278.45" y="781.5" font-size="10" fill="#3a9440" stroke="#3a9440" stroke-width="0.1" text-anchor="middle">147</text>
<text x="348.53" y="781.5" font-size="10" fill="#3a9440" stroke="#3a9440" stroke-width="0.1" text-anchor="middle">133</text>
<text x="418.62" y="781.5" font-size="10" fill="#3a9440" stroke="#3a9440" stroke-width="0.1" text-anchor="middle">60</text>
<text x="488.7" y="781.5" font-size="10" fill="#3a9440" stroke="#3a9440" stroke-width="0.1" text-anchor="middle">5</text>
<text x="55.8" y="795.7" font-size="9.9" fill="#1d528e" stroke="#1d528e" stroke-width="0.1" text-anchor="end" textLength="36.6" lengthAdjust="spacingAndGlyphs">Arm 2 (I)</text>
<text x="68.2" y="795.7" font-size="10" fill="#1d528e" stroke="#1d528e" stroke-width="0.1" text-anchor="middle">182</text>
<text x="138.28" y="795.7" font-size="10" fill="#1d528e" stroke="#1d528e" stroke-width="0.1" text-anchor="middle">166</text>
<text x="208.37" y="795.7" font-size="10" fill="#1d528e" stroke="#1d528e" stroke-width="0.1" text-anchor="middle">159</text>
<text x="278.45" y="795.7" font-size="10" fill="#1d528e" stroke="#1d528e" stroke-width="0.1" text-anchor="middle">156</text>
<text x="348.53" y="795.7" font-size="10" fill="#1d528e" stroke="#1d528e" stroke-width="0.1" text-anchor="middle">146</text>
<text x="418.62" y="795.7" font-size="10" fill="#1d528e" stroke="#1d528e" stroke-width="0.1" text-anchor="middle">67</text>
<text x="488.7" y="795.7" font-size="10" fill="#1d528e" stroke="#1d528e" stroke-width="0.1" text-anchor="middle">4</text>
<text x="55.8" y="809.8" font-size="9.9" fill="#c0163a" stroke="#c0163a" stroke-width="0.1" text-anchor="end" textLength="44.1" lengthAdjust="spacingAndGlyphs">Arm 3 (IR)</text>
<text x="68.2" y="809.8" font-size="10" fill="#c0163a" stroke="#c0163a" stroke-width="0.1" text-anchor="middle">182</text>
<text x="138.28" y="809.8" font-size="10" fill="#c0163a" stroke="#c0163a" stroke-width="0.1" text-anchor="middle">169</text>
<text x="208.37" y="809.8" font-size="10" fill="#c0163a" stroke="#c0163a" stroke-width="0.1" text-anchor="middle">163</text>
<text x="278.45" y="809.8" font-size="10" fill="#c0163a" stroke="#c0163a" stroke-width="0.1" text-anchor="middle">152</text>
<text x="348.53" y="809.8" font-size="10" fill="#c0163a" stroke="#c0163a" stroke-width="0.1" text-anchor="middle">142</text>
<text x="418.62" y="809.8" font-size="10" fill="#c0163a" stroke="#c0163a" stroke-width="0.1" text-anchor="middle">59</text>
<text x="488.7" y="809.8" font-size="10" fill="#c0163a" stroke="#c0163a" stroke-width="0.1" text-anchor="middle">3</text>
<path d="M68.0,461.0H77.0H78.0V464.5H81.1V464.5H84.2V464.6H87.3V464.6H90.4V464.7H93.5V464.7H96.5V464.8H99.6V464.8H102.7V464.9H105.8V464.9H108.9V465.0H112.0V465.0H115.2V465.1H118.4V465.2H121.6V465.3H124.8V465.4H128.0V465.5H130.0V466.5H133.1V466.6H136.2V466.6H139.4V466.7H142.5V466.8H145.6V466.8H148.8V466.9H151.9V466.9H155.0V467.0H180.0H183.0V468.7H185.8V468.8H188.7V468.8H191.5V468.9H194.3V468.9H197.2V468.9H200.0V469.0H202.0V470.4H217.0H219.0V474.2H232.0H234.0V476.8H248.0H250.0V481.8H262.0H264.0V483.8H267.2V483.9H270.4V484.0H273.6V484.0H276.8V484.1H280.0V484.2H283.3V485.5H286.7V486.7H290.0V488.0H293.0V495.0H296.0V496.3H300.0V501.0H303.1V501.1H306.2V501.1H309.2V501.2H312.3V501.2H315.4V501.3H318.5V501.4H321.5V501.4H324.6V501.5H327.7V501.6H330.8V501.6H333.8V501.7H336.9V501.7H340.0V501.8H342.0V502.5H345.2V502.6H348.5V502.6H351.8V502.7H355.0V502.8H358.0V508.1H377.0H379.0V511.0H382.2V511.2H385.4V511.4H388.6V511.6H391.8V511.8H395.0V512.0H398.0V514.0H400.0V516.9H403.0V517.0H406.0V517.0H409.0V517.1H412.0V517.1H415.0V517.2H418.0V517.3H421.0V517.3H424.0V517.4H427.0V517.4H430.0V517.5H432.0V522.9H434.7V524.3H437.3V525.6H440.0V527.0H442.5V530.0H445.0V533.0H448.5V533.4H452.0V533.8H492.0" fill="none" stroke="#3aaa3e" stroke-width="4.5" stroke-linejoin="miter" stroke-linecap="butt"/>
<path d="M72.0,458.0V464.0M76.4,458.0V464.0M79.7,461.5V467.5M84.0,461.6V467.6M89.2,461.7V467.7M93.3,461.7V467.7M97.7,461.8V467.8M104.0,461.9V467.9M111.0,462.0V468.0M117.8,462.2V468.2M120.9,462.3V468.3M125.6,462.4V468.4M131.0,463.5V469.5M134.4,463.6V469.6M140.1,463.7V469.7M143.1,463.8V469.8M149.5,463.9V469.9M156.6,464.0V470.0M161.1,464.0V470.0M166.9,464.1V470.1M173.8,464.2V470.2M176.4,464.2V470.2M182.8,465.6V471.6M187.5,465.8V471.8M191.3,465.8V471.8M198.3,466.0V472.0M203.9,467.4V473.4M209.9,467.5V473.5M215.5,467.5V473.5M219.8,471.2V477.2M224.8,471.3V477.3M228.0,471.3V477.3M235.4,473.8V479.8M238.3,473.9V479.9M245.8,474.0V480.0M251.2,478.8V484.8M258.1,478.9V484.9M260.9,479.0V485.0M268.2,480.9V486.9M272.5,481.0V487.0M278.9,481.2V487.2M284.4,482.9V488.9M291.7,489.1V495.1M298.3,496.0V502.0M302.7,498.1V504.1M307.9,498.2V504.2M310.3,498.2V504.2M317.9,498.4V504.4M323.2,498.5V504.5M326.8,498.5V504.5M332.8,498.7V504.7M337.1,498.7V504.7M342.8,499.5V505.5M346.6,499.6V505.6M350.0,499.7V505.7M352.9,499.8V505.8M358.5,505.1V511.1M365.1,505.2V511.2M368.2,505.2V511.2M372.9,505.3V511.3M378.9,507.9V513.9M384.6,508.3V514.3M390.2,508.7V514.7M395.6,509.4V515.4M401.0,513.9V519.9M405.8,514.0V520.0M410.0,514.1V520.1M416.0,514.2V520.2M421.1,514.3V520.3M424.3,514.4V520.4M428.5,514.5V520.5M435.3,521.6V527.6M440.1,524.1V530.1M447.8,530.3V536.3M453.1,530.8V536.8M458.6,530.8V536.8M461.0,530.8V536.8M467.4,530.8V536.8M474.5,530.8V536.8M480.2,530.8V536.8M482.7,530.8V536.8M486.5,530.8V536.8M491.0,530.5V537.1" fill="none" stroke="#3aaa3e" stroke-width="1.1"/>
<path d="M68.0,461.0H96.0H100.0V462.0H103.0V463.5H106.0V465.0H110.0V467.0H113.0V467.2H116.0V467.5H119.0V467.8H122.0V468.0H125.0V468.2H128.0V468.5H130.0V475.8H132.5V476.8H135.0V477.7H137.9V477.7H140.7V477.8H143.6V477.8H146.4V477.9H149.3V477.9H152.1V478.0H155.0V478.0H157.0V479.2H160.0V479.2H163.0V479.3H166.0V479.4H169.0V479.4H172.0V479.4H175.0V479.5H177.0V481.2H179.7V481.3H182.3V481.4H185.0V481.5H187.0V483.1H204.0H206.0V485.4H245.0H248.2V485.8H251.5V486.2H254.8V486.6H258.0V487.0H261.0V487.0H264.0V487.1H267.0V487.1H270.0V487.2H273.0V487.2H276.0V487.2H279.0V487.3H282.0V487.3H285.0V487.3H288.0V487.4H291.0V487.4H294.0V487.5H297.0V487.5H299.0V493.0H302.2V493.1H305.3V493.2H308.5V493.2H311.7V493.3H314.8V493.4H318.0V493.5H320.0V495.0H350.0H353.0V495.2H356.0V495.5H359.0V495.8H362.0V496.0H365.0V496.2H368.0V496.5H371.0V496.8H374.0V497.0H377.0V497.2H380.0V497.5H382.7V498.7H385.3V499.8H388.0V501.0H391.0V501.1H394.0V501.1H397.0V501.2H400.0V501.2H403.0V501.3H406.0V501.3H409.0V501.4H412.0V501.4H415.0V501.5H417.0V503.0H419.9V503.1H422.8V503.1H425.6V503.2H428.5V503.2H431.4V503.3H434.2V503.4H437.1V503.4H440.0V503.5H443.0V509.5H445.9V509.6H448.8V509.6H451.6V509.7H454.5V509.8H457.4V509.8H460.2V509.9H463.1V509.9H466.0V510.0H468.0V521.5H492.0" fill="none" stroke="#1d5b98" stroke-width="4.5" stroke-linejoin="miter" stroke-linecap="butt"/>
<path d="M72.0,458.0V464.0M78.2,458.0V464.0M84.3,458.0V464.0M92.3,458.0V464.0M99.9,459.0V465.0M103.7,460.8V466.8M108.7,463.3V469.3M110.7,464.1V470.1M114.3,464.4V470.4M118.8,464.7V470.7M125.8,465.3V471.3M128.5,467.2V473.2M131.5,473.4V479.4M136.4,474.7V480.7M143.9,474.8V480.8M151.2,474.9V480.9M155.4,475.3V481.3M158.0,476.2V482.2M160.1,476.3V482.3M164.8,476.3V482.3M170.0,476.4V482.4M177.7,478.2V484.2M181.0,478.4V484.4M186.5,479.7V485.7M192.9,480.2V486.2M198.1,480.3V486.3M201.6,480.4V486.4M209.1,482.4V488.4M215.0,482.4V488.4M217.8,482.4V488.4M222.7,482.4V488.4M226.5,482.5V488.5M230.5,482.5V488.5M237.0,482.5V488.5M240.3,482.5V488.5M247.4,482.8V488.8M252.0,483.3V489.3M254.7,483.6V489.6M258.5,484.0V490.0M265.5,484.1V490.1M268.1,484.1V490.1M272.1,484.2V490.2M279.5,484.3V490.3M283.0,484.3V490.3M287.5,484.4V490.4M291.9,484.4V490.4M294.1,484.5V490.5M297.8,486.6V492.6M305.1,490.2V496.2M312.3,490.4V496.4M317.8,490.5V496.5M325.0,492.0V498.0M332.1,492.0V498.0M339.0,492.0V498.0M342.1,492.0V498.0M346.6,492.0V498.0M352.0,492.2V498.2M354.1,492.3V498.3M361.2,492.9V498.9M366.4,493.4V499.4M374.0,494.0V500.0M380.9,494.9V500.9M384.5,496.5V502.5M388.1,498.0V504.0M390.4,498.0V504.0M396.0,498.1V504.1M403.6,498.3V504.3M406.6,498.3V504.3M410.4,498.4V504.4M417.9,500.0V506.0M425.4,500.2V506.2M431.4,500.3V506.3M438.3,500.5V506.5M442.6,505.6V511.6M446.2,506.6V512.6M449.4,506.6V512.6M454.6,506.8V512.8M462.3,506.9V512.9M465.0,507.0V513.0M470.7,518.5V524.5M476.3,518.5V524.5M479.1,518.5V524.5M485.7,518.5V524.5M488.7,518.5V524.5M491.0,518.2V524.8" fill="none" stroke="#1d5b98" stroke-width="1.1"/>
<path d="M68.0,461.0H78.0H80.0V464.0H83.0V464.4H86.0V464.8H89.0V465.2H92.5V466.0H96.0V466.8H98.3V467.6H100.6V468.3H104.0V469.5H107.0V469.5H110.0V469.6H113.0V469.6H116.0V469.6H119.0V469.7H122.0V469.7H125.0V469.8H128.0V469.8H131.0V473.0H134.1V473.1H137.1V473.1H140.2V473.2H143.2V473.2H146.3V473.3H149.4V473.4H152.4V473.4H155.5V473.5H158.6V473.6H161.6V473.6H164.7V473.7H167.8V473.8H170.8V473.8H173.9V473.9H176.9V473.9H180.0V474.0H182.0V476.0H217.0H219.0V479.0H222.0V480.8H245.0H247.0V485.0H249.7V485.5H252.3V486.0H255.0V486.5H257.0V488.7H280.0H282.0V491.0H318.0H320.0V493.5H322.5V494.9H325.0V496.3H328.3V496.5H331.7V496.8H335.0V497.0H362.0H365.0V499.9H378.0H380.0V503.5H383.3V503.7H386.7V503.8H390.0V504.0H392.0V505.4H394.7V505.6H397.3V505.8H400.0V506.0H402.0V508.8H404.7V508.9H407.3V509.1H410.0V509.2H413.0V509.2H416.0V509.3H419.0V509.3H422.0V509.3H425.0V509.4H428.0V509.4H431.0V509.4H434.0V509.5H437.0V509.5H439.5V513.2H442.0V517.0H445.0V519.0H481.5V547.3H493.5" fill="none" stroke="#d4163c" stroke-width="4.5" stroke-linejoin="miter" stroke-linecap="butt"/>
<path d="M72.0,458.0V464.0M77.5,458.0V464.0M85.5,461.7V467.7M88.1,462.1V468.1M92.4,463.0V469.0M99.5,464.9V470.9M102.2,465.9V471.9M104.9,466.5V472.5M108.2,466.6V472.6M113.0,466.6V472.6M115.3,466.6V472.6M122.9,466.7V472.7M129.0,467.9V473.9M131.8,470.0V476.0M135.5,470.1V476.1M140.3,470.2V476.2M146.4,470.3V476.3M152.8,470.4V476.4M157.0,470.5V476.5M161.8,470.6V476.6M167.6,470.7V476.7M173.8,470.9V476.9M180.8,471.8V477.8M183.0,473.0V479.0M185.8,473.0V479.0M192.3,473.1V479.1M198.2,473.1V479.1M202.6,473.1V479.1M205.9,473.1V479.1M211.1,473.2V479.2M214.2,473.2V479.2M218.2,474.8V480.8M224.7,477.8V483.8M226.9,477.8V483.8M229.1,477.9V483.9M232.4,477.9V483.9M239.6,478.0V484.0M243.2,478.0V484.0M247.5,482.1V488.1M253.2,483.2V489.2M259.4,485.7V491.7M267.0,485.7V491.7M273.1,485.8V491.8M277.9,485.8V491.8M280.7,486.5V492.5M287.8,488.0V494.0M292.0,488.1V494.1M296.0,488.1V494.1M301.5,488.1V494.1M305.4,488.1V494.1M312.7,488.2V494.2M318.5,488.7V494.7M322.9,492.1V498.1M326.5,493.4V499.4M331.0,493.7V499.7M336.9,494.0V500.0M340.1,494.0V500.0M348.0,494.1V500.1M352.5,494.1V500.1M355.5,494.2V500.2M357.9,494.2V500.2M362.3,494.5V500.5M366.5,496.9V502.9M371.5,496.9V502.9M376.9,497.0V503.0M382.5,500.6V506.6M387.2,500.9V506.9M393.8,502.5V508.5M397.1,502.8V508.8M399.3,502.9V508.9M405.9,506.0V512.0M409.4,506.2V512.2M414.8,506.3V512.3M420.7,506.3V512.3M425.5,506.4V512.4M431.0,506.4V512.4M437.7,507.5V513.5M444.1,515.4V521.4M450.6,516.0V522.0M456.2,516.0V522.0M461.1,516.0V522.0M465.8,516.0V522.0M467.9,516.0V522.0M472.8,516.0V522.0M476.9,516.0V522.0M479.2,516.0V522.0M485.9,544.3V550.3M491.7,544.3V550.3M492.5,544.0V550.6" fill="none" stroke="#d4163c" stroke-width="1.1"/>
<rect x="0.5" y="0.5" width="519" height="820" fill="none" stroke="#3c3c3c" stroke-width="1"/>
</svg>
</body></html>
